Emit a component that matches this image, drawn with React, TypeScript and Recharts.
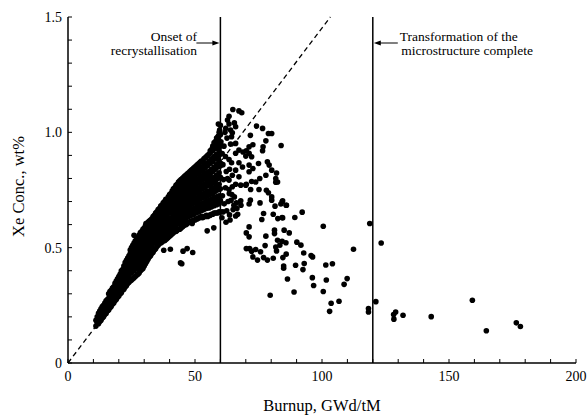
import { ScatterChart, Scatter, XAxis, YAxis, ReferenceLine } from 'recharts'

const xTicks = [0, 10, 20, 30, 40, 50, 60, 70, 80, 90, 100, 110, 120, 130, 140, 150, 160, 170, 180, 190, 200]
const yTicks = [0, 0.1, 0.2, 0.3, 0.4, 0.5, 0.6, 0.7, 0.8, 0.9, 1.0, 1.1, 1.2, 1.3, 1.4, 1.5]
const xMajor = [0, 50, 100, 150, 200]
const yMajor = [0, 0.5, 1.0, 1.5]

// dense band below onset of recrystallisation: burnup -> measured Xe concentrations
const bandColumns: [number, number[]][] = [
  [11, [0.16, 0.185]],
  [12, [0.17, 0.2, 0.215]],
  [13, [0.185, 0.215, 0.235]],
  [14, [0.2, 0.225, 0.25]],
  [15, [0.215, 0.245, 0.27]],
  [16, [0.23, 0.255, 0.28, 0.3]],
  [17, [0.245, 0.27, 0.295, 0.315]],
  [18, [0.26, 0.285, 0.31, 0.33]],
  [19, [0.275, 0.3, 0.33, 0.355]],
  [20, [0.29, 0.315, 0.345, 0.375]],
  [21, [0.305, 0.33, 0.36, 0.39, 0.4]],
  [22, [0.32, 0.35, 0.375, 0.4, 0.42]],
  [23, [0.335, 0.36, 0.39, 0.42, 0.445]],
  [24, [0.35, 0.375, 0.405, 0.435, 0.465]],
  [25, [0.36, 0.39, 0.42, 0.45, 0.48, 0.5]],
  [26, [0.37, 0.4, 0.43, 0.46, 0.49, 0.52]],
  [27, [0.38, 0.41, 0.445, 0.475, 0.505, 0.535]],
  [28, [0.39, 0.42, 0.455, 0.49, 0.52, 0.555]],
  [29, [0.405, 0.435, 0.47, 0.5, 0.535, 0.57]],
  [30, [0.42, 0.45, 0.48, 0.515, 0.55, 0.585]],
  [31, [0.44, 0.47, 0.5, 0.53, 0.565, 0.6]],
  [32, [0.46, 0.485, 0.515, 0.545, 0.58, 0.615]],
  [33, [0.475, 0.505, 0.535, 0.565, 0.595, 0.625]],
  [34, [0.49, 0.52, 0.55, 0.58, 0.61, 0.64]],
  [35, [0.505, 0.535, 0.565, 0.595, 0.625, 0.655]],
  [36, [0.52, 0.55, 0.58, 0.61, 0.64, 0.67]],
  [37, [0.525, 0.555, 0.59, 0.62, 0.65, 0.685]],
  [38, [0.53, 0.565, 0.6, 0.63, 0.665, 0.7]],
  [39, [0.54, 0.575, 0.605, 0.64, 0.675, 0.71]],
  [40, [0.55, 0.58, 0.615, 0.65, 0.685, 0.72, 0.73]],
  [41, [0.56, 0.59, 0.625, 0.66, 0.695, 0.725, 0.745]],
  [42, [0.57, 0.6, 0.635, 0.67, 0.705, 0.735, 0.76]],
  [43, [0.575, 0.61, 0.645, 0.68, 0.715, 0.745, 0.775]],
  [44, [0.58, 0.615, 0.65, 0.685, 0.72, 0.755, 0.79]],
  [45, [0.59, 0.625, 0.66, 0.695, 0.73, 0.765, 0.8]],
  [46, [0.6, 0.635, 0.67, 0.705, 0.74, 0.775, 0.81]],
  [47, [0.605, 0.64, 0.675, 0.71, 0.745, 0.78, 0.82]],
  [48, [0.61, 0.645, 0.68, 0.72, 0.755, 0.79, 0.83]],
  [49, [0.615, 0.65, 0.69, 0.725, 0.76, 0.8, 0.84]],
  [50, [0.62, 0.655, 0.695, 0.735, 0.77, 0.81, 0.85]],
  [51, [0.625, 0.66, 0.7, 0.74, 0.78, 0.82, 0.86]],
  [52, [0.63, 0.67, 0.71, 0.75, 0.79, 0.83, 0.87]],
  [53, [0.63, 0.675, 0.715, 0.755, 0.795, 0.835, 0.875]],
  [54, [0.635, 0.68, 0.72, 0.76, 0.8, 0.845, 0.89]],
  [55, [0.635, 0.68, 0.725, 0.77, 0.81, 0.855, 0.9]],
  [56, [0.64, 0.685, 0.73, 0.775, 0.82, 0.865, 0.91, 0.92]],
  [57, [0.645, 0.69, 0.735, 0.78, 0.83, 0.875, 0.92, 0.94]],
  [58, [0.65, 0.7, 0.745, 0.79, 0.84, 0.885, 0.93, 0.96]],
  [59, [0.65, 0.7, 0.75, 0.8, 0.85, 0.9, 0.94, 0.98]],
  [60, [0.655, 0.705, 0.755, 0.805, 0.855, 0.905, 0.95, 0.99, 1.03]],
]

// the same band, read at half-unit burnups
const bandHalfColumns: [number, number[]][] = [
  [11.5, [0.175, 0.2]],
  [12.5, [0.18, 0.205, 0.225]],
  [13.5, [0.195, 0.22, 0.245]],
  [14.5, [0.21, 0.235, 0.26]],
  [15.5, [0.225, 0.25, 0.275]],
  [16.5, [0.24, 0.265, 0.29, 0.31]],
  [17.5, [0.255, 0.28, 0.305, 0.325]],
  [18.5, [0.27, 0.3, 0.32, 0.345]],
  [19.5, [0.285, 0.315, 0.34, 0.365]],
  [20.5, [0.3, 0.33, 0.36, 0.385]],
  [21.5, [0.315, 0.345, 0.375, 0.405]],
  [22.5, [0.33, 0.36, 0.39, 0.415, 0.435]],
  [23.5, [0.345, 0.375, 0.405, 0.43, 0.455]],
  [24.5, [0.355, 0.39, 0.42, 0.45, 0.475, 0.49]],
  [25.5, [0.365, 0.405, 0.435, 0.465, 0.495, 0.51]],
  [26.5, [0.375, 0.415, 0.445, 0.475, 0.505, 0.53]],
  [27.5, [0.385, 0.425, 0.46, 0.49, 0.52, 0.545]],
  [28.5, [0.4, 0.435, 0.47, 0.505, 0.535, 0.565]],
  [29.5, [0.41, 0.45, 0.485, 0.52, 0.55, 0.58]],
  [30.5, [0.43, 0.465, 0.495, 0.53, 0.565, 0.595]],
  [31.5, [0.45, 0.485, 0.515, 0.545, 0.58, 0.61]],
  [32.5, [0.465, 0.5, 0.53, 0.56, 0.595, 0.62]],
  [33.5, [0.48, 0.52, 0.55, 0.58, 0.61, 0.635]],
  [34.5, [0.495, 0.535, 0.565, 0.595, 0.625, 0.65]],
  [35.5, [0.51, 0.55, 0.58, 0.61, 0.64, 0.665]],
  [36.5, [0.52, 0.565, 0.595, 0.625, 0.655, 0.68]],
  [37.5, [0.53, 0.57, 0.605, 0.635, 0.67, 0.695]],
  [38.5, [0.535, 0.58, 0.615, 0.645, 0.68, 0.71]],
  [39.5, [0.545, 0.59, 0.625, 0.655, 0.69, 0.72]],
  [40.5, [0.555, 0.595, 0.63, 0.665, 0.7, 0.735]],
  [41.5, [0.565, 0.605, 0.64, 0.675, 0.71, 0.745, 0.755]],
  [42.5, [0.57, 0.615, 0.65, 0.685, 0.72, 0.75, 0.77]],
  [43.5, [0.58, 0.63, 0.665, 0.7, 0.73, 0.76, 0.785]],
  [44.5, [0.585, 0.635, 0.67, 0.705, 0.74, 0.775, 0.795]],
  [45.5, [0.595, 0.64, 0.68, 0.715, 0.75, 0.785, 0.805]],
  [46.5, [0.6, 0.65, 0.69, 0.725, 0.76, 0.795, 0.815]],
  [47.5, [0.61, 0.66, 0.695, 0.73, 0.765, 0.8, 0.825]],
  [48.5, [0.615, 0.665, 0.7, 0.74, 0.775, 0.81, 0.835]],
  [49.5, [0.62, 0.67, 0.71, 0.745, 0.78, 0.82, 0.845]],
  [50.5, [0.625, 0.675, 0.715, 0.755, 0.79, 0.83, 0.855]],
  [51.5, [0.63, 0.68, 0.72, 0.76, 0.8, 0.84, 0.865]],
  [52.5, [0.635, 0.69, 0.73, 0.77, 0.81, 0.85, 0.875]],
  [53.5, [0.635, 0.695, 0.735, 0.775, 0.815, 0.855, 0.885]],
  [54.5, [0.64, 0.7, 0.74, 0.78, 0.825, 0.865, 0.895]],
  [55.5, [0.64, 0.705, 0.745, 0.79, 0.83, 0.875, 0.905]],
  [56.5, [0.645, 0.71, 0.755, 0.8, 0.84, 0.885, 0.925]],
  [57.5, [0.65, 0.715, 0.76, 0.805, 0.85, 0.895, 0.94, 0.955]],
  [58.5, [0.65, 0.72, 0.77, 0.815, 0.86, 0.905, 0.95, 0.975]],
  [59.5, [0.655, 0.725, 0.775, 0.825, 0.875, 0.92, 0.96, 1.0]],
]

// points close to the lower edge of the band
const bandLowerEdge: [number, number][] = [
  [35.5, 0.53], [36.5, 0.542], [37.5, 0.55], [38.5, 0.557], [39.5, 0.567], [40.5, 0.575],
  [41.5, 0.585], [42.5, 0.593], [43.5, 0.605], [44.5, 0.61], [45.5, 0.618], [46.5, 0.625],
  [47.5, 0.635], [48.5, 0.64], [49.5, 0.645], [50.5, 0.65], [51.5, 0.655], [52.5, 0.66],
  [53.5, 0.665], [54.5, 0.67], [55.5, 0.672], [56.5, 0.677], [57.5, 0.682], [58.5, 0.686],
  [59.5, 0.69],
]

// stray points below/above the band
const bandOutliers: [number, number][] = [
  [18.3, 0.318], [26, 0.554], [30.7, 0.605], [37.7, 0.489], [40.3, 0.493], [45.3, 0.485],
  [46.9, 0.496], [49.1, 0.479], [44.3, 0.434], [44.8, 0.43], [48.9, 0.605], [54.8, 0.573],
  [57.4, 0.586], [59.2, 1.036], [59.7, 1.01], [59.2, 0.984], [60.2, 0.959], [59.7, 0.937],
  [60.7, 0.908], [59.2, 0.882], [60.2, 0.865],
]

// between onset of recrystallisation and complete transformation
const recrystPoints: [number, number][] = [
  [64.9, 1.099], [67.3, 1.093], [68.4, 1.085], [63.4, 1.07], [62.8, 1.053], [63.4, 1.036],
  [62.1, 1.017], [64, 1.01], [65.5, 1.041], [66, 1.024], [64.7, 0.998], [64.4, 0.981],
  [74.2, 1.027], [76.6, 1.017], [78.9, 0.995], [80.2, 0.995], [71.8, 0.987], [83.9, 0.943],
  [77.9, 0.963], [76.8, 0.937], [76.6, 0.92], [72.8, 0.946], [71.3, 0.937], [66, 0.952],
  [64, 0.949], [67.3, 0.923], [66, 0.909], [68.9, 0.915], [70.2, 0.92], [71.3, 0.909],
  [70, 0.897], [72.3, 0.894], [63.4, 0.882], [64.4, 0.868], [67.3, 0.868], [68.7, 0.85],
  [71.3, 0.858], [72.8, 0.843], [75, 0.865], [78.5, 0.872], [79.2, 0.858], [80.2, 0.836],
  [77.9, 0.814], [75.5, 0.8], [73.9, 0.785], [82.1, 0.824], [81.8, 0.8], [82.5, 0.785],
  [71.3, 0.829], [66, 0.836], [64.7, 0.814], [67.3, 0.807], [63.4, 0.793], [68, 0.771],
  [70, 0.771], [81.8, 0.784], [72.3, 0.787], [70.2, 0.775], [66, 0.775], [64.7, 0.764],
  [63.4, 0.752], [71.9, 0.752], [75.2, 0.752], [78.1, 0.749], [78.9, 0.738], [80.2, 0.72],
  [80.2, 0.706], [84.5, 0.703], [86, 0.684], [83.8, 0.689], [68, 0.703], [66.3, 0.694],
  [65.3, 0.684], [68.1, 0.684], [71.8, 0.706], [71.3, 0.689], [75.6, 0.694], [81.5, 0.68],
  [80.8, 0.645], [77, 0.648], [76.3, 0.622], [66.8, 0.645], [63.6, 0.642], [66, 0.637],
  [82.6, 0.626], [84.5, 0.629], [71.3, 0.59], [70.2, 0.564], [71.3, 0.547], [77.9, 0.55],
  [81.3, 0.576], [81.3, 0.561], [82.5, 0.532], [83.4, 0.511], [81.8, 0.503], [82.1, 0.486],
  [77.6, 0.509], [70.2, 0.496], [71.5, 0.496], [72.3, 0.485], [73.9, 0.492], [75.8, 0.482],
  [72.8, 0.46], [74.6, 0.446], [77, 0.457], [78.5, 0.446], [80.8, 0.454], [79.6, 0.294],
  [61, 0.655], [61.5, 0.69], [60.8, 0.725], [62, 0.76], [61.2, 0.795], [62.3, 0.83],
  [61, 0.86], [62, 0.895], [61.4, 0.94], [62.6, 0.975], [61.8, 1.0], [62.5, 0.66],
  [63, 0.7], [63.5, 0.735], [62.8, 0.8], [63.6, 0.84], [64.2, 0.705], [65, 0.665],
  [64.5, 0.73], [63.8, 0.62], [62.2, 0.61], [60.6, 0.63], [65.5, 0.72], [66.5, 0.67],
  [84.3, 0.699], [85.9, 0.684], [92.2, 0.654], [89.3, 0.631], [84.3, 0.631], [85.1, 0.576],
  [87.1, 0.564], [84.3, 0.528], [85.8, 0.521], [90.1, 0.524], [91.7, 0.511], [85.9, 0.472],
  [84.6, 0.457], [92.8, 0.477], [95.7, 0.466], [96.3, 0.46], [84.9, 0.42], [84.9, 0.411],
  [89.6, 0.424], [92.5, 0.405], [93, 0.431], [101.5, 0.425], [104.1, 0.43], [86.4, 0.364],
  [96.2, 0.37], [96.7, 0.336], [101.7, 0.36], [109.9, 0.366], [108.7, 0.341], [89, 0.308],
  [100.5, 0.31], [103.6, 0.259], [103, 0.224], [106.7, 0.268], [100.5, 0.593], [112.4, 0.493],
  [118.8, 0.605], [118.3, 0.236], [118.3, 0.221],
]

// after the transformation of the microstructure
const transformedPoints: [number, number][] = [
  [123.3, 0.52], [121.2, 0.266], [128.2, 0.21], [129, 0.221], [128.3, 0.19], [131.9, 0.207],
  [143, 0.201], [159.2, 0.272], [164.7, 0.14], [176.5, 0.174], [178.1, 0.158],
]

const FONT = "'Liberation Serif', 'Times New Roman', serif"

const toXY = (pts: [number, number][]) => pts.map(([x, y]) => ({ x, y }))
const fromColumns = (cols: [number, number[]][]) => cols.flatMap(([x, ys]) => ys.map((y) => ({ x, y })))
const bandData = [...fromColumns(bandColumns), ...fromColumns(bandHalfColumns), ...toXY(bandLowerEdge)]

function Dot(props: any) {
  const { cx, cy } = props
  if (cx == null || cy == null) return null
  return <circle cx={cx} cy={cy} r={2.8} fill="#000" />
}

function OnsetNote(props: any) {
  const vb = props.viewBox || {}
  const x = vb.x
  const top = vb.y
  const ay = top + 26
  return (
    <g fontFamily={FONT} fontSize={13.5} fill="#000">
      <text x={x - 23.5} y={top + 23.5} textAnchor="end">Onset of</text>
      <text x={x - 23.5} y={top + 38} textAnchor="end">recrystallisation</text>
      <line x1={x - 24} y1={ay} x2={x - 6} y2={ay} stroke="#000" strokeWidth={1} />
      <polygon points={`${x - 1},${ay} ${x - 8},${ay - 2.5} ${x - 8},${ay + 2.5}`} fill="#000" />
    </g>
  )
}

function TransformNote(props: any) {
  const vb = props.viewBox || {}
  const x = vb.x
  const top = vb.y
  const ay = top + 26
  return (
    <g fontFamily={FONT} fontSize={13.5} fill="#000">
      <text x={x + 27} y={top + 24}>Transformation of the</text>
      <text x={x + 28.5} y={top + 37.5}>microstructure complete</text>
      <line x1={x + 25} y1={ay} x2={x + 6} y2={ay} stroke="#000" strokeWidth={1} />
      <polygon points={`${x + 1},${ay} ${x + 8},${ay - 2.5} ${x + 8},${ay + 2.5}`} fill="#000" />
    </g>
  )
}

function XTitle(props: any) {
  const vb = props.viewBox || {}
  return (
    <text x={vb.x + vb.width / 2} y={vb.y + 48} textAnchor="middle" fontFamily={FONT} fontSize={16.5} fill="#000">
      Burnup, GWd/tM
    </text>
  )
}

function YTitle(props: any) {
  const vb = props.viewBox || {}
  const cx = vb.x + 23.5
  const cy = vb.y + vb.height / 2 - 3.5
  return (
    <text x={cx} y={cy} textAnchor="middle" transform={`rotate(-90, ${cx}, ${cy})`} fontFamily={FONT} fontSize={16.5} fill="#000">
      Xe Conc., wt%
    </text>
  )
}

const fmtX = (v: number) => (xMajor.includes(v) ? String(v) : '')
const fmtY = (v: number) => {
  const m = yMajor.find((t) => Math.abs(t - v) < 1e-6)
  if (m === undefined) return ''
  return m === 0 ? '0' : m.toFixed(1)
}
const blank = () => ''

const axisLine = { stroke: '#000', strokeWidth: 1.5 }
const tickLine = { stroke: '#000', strokeWidth: 1 }
const tickText = { fill: '#000', fontSize: 14, fontFamily: FONT }

export default function App() {
  return (
    <div style={{ position: 'absolute', left: 0, top: 0, width: 587, height: 415, background: '#fff' }}>
      <ScatterChart width={587} height={415} margin={{ top: 17, right: 11, bottom: 0, left: 0 }}>
        <XAxis
          xAxisId="b"
          type="number"
          dataKey="x"
          domain={[0, 200]}
          ticks={xTicks}
          interval={0}
          tickFormatter={fmtX}
          height={52}
          tickSize={-4}
          tickMargin={12}
          axisLine={axisLine}
          tickLine={tickLine}
          tick={tickText}
          label={<XTitle />}
          allowDataOverflow
        />
        <XAxis
          xAxisId="t"
          orientation="top"
          type="number"
          domain={[0, 200]}
          ticks={xTicks}
          interval={0}
          tickFormatter={blank}
          height={0}
          tickSize={-4}
          axisLine={axisLine}
          tickLine={tickLine}
          allowDataOverflow
        />
        <YAxis
          yAxisId="l"
          type="number"
          dataKey="y"
          domain={[0, 1.5]}
          ticks={yTicks}
          interval={0}
          tickFormatter={fmtY}
          width={68}
          tickSize={-4}
          tickMargin={10}
          axisLine={axisLine}
          tickLine={tickLine}
          tick={tickText}
          label={<YTitle />}
          allowDataOverflow
        />
        <YAxis
          yAxisId="r"
          orientation="right"
          type="number"
          domain={[0, 1.5]}
          ticks={yTicks}
          interval={0}
          tickFormatter={blank}
          width={0}
          tickSize={-4}
          axisLine={axisLine}
          tickLine={tickLine}
          allowDataOverflow
        />
        <ReferenceLine
          xAxisId="b"
          yAxisId="l"
          segment={[{ x: 0, y: 0 }, { x: 103.3, y: 1.5 }]}
          stroke="#000"
          strokeWidth={1.3}
          strokeDasharray="5 3.5"
        />
        <ReferenceLine xAxisId="b" yAxisId="l" x={60} stroke="#000" strokeWidth={1.5} label={<OnsetNote />} />
        <ReferenceLine xAxisId="b" yAxisId="l" x={120} stroke="#000" strokeWidth={1.5} label={<TransformNote />} />
        <Scatter xAxisId="b" yAxisId="l" data={bandData} shape={Dot} isAnimationActive={false} />
        <Scatter xAxisId="b" yAxisId="l" data={toXY(bandOutliers)} shape={Dot} isAnimationActive={false} />
        <Scatter xAxisId="b" yAxisId="l" data={toXY(recrystPoints)} shape={Dot} isAnimationActive={false} />
        <Scatter xAxisId="b" yAxisId="l" data={toXY(transformedPoints)} shape={Dot} isAnimationActive={false} />
      </ScatterChart>
    </div>
  )
}
